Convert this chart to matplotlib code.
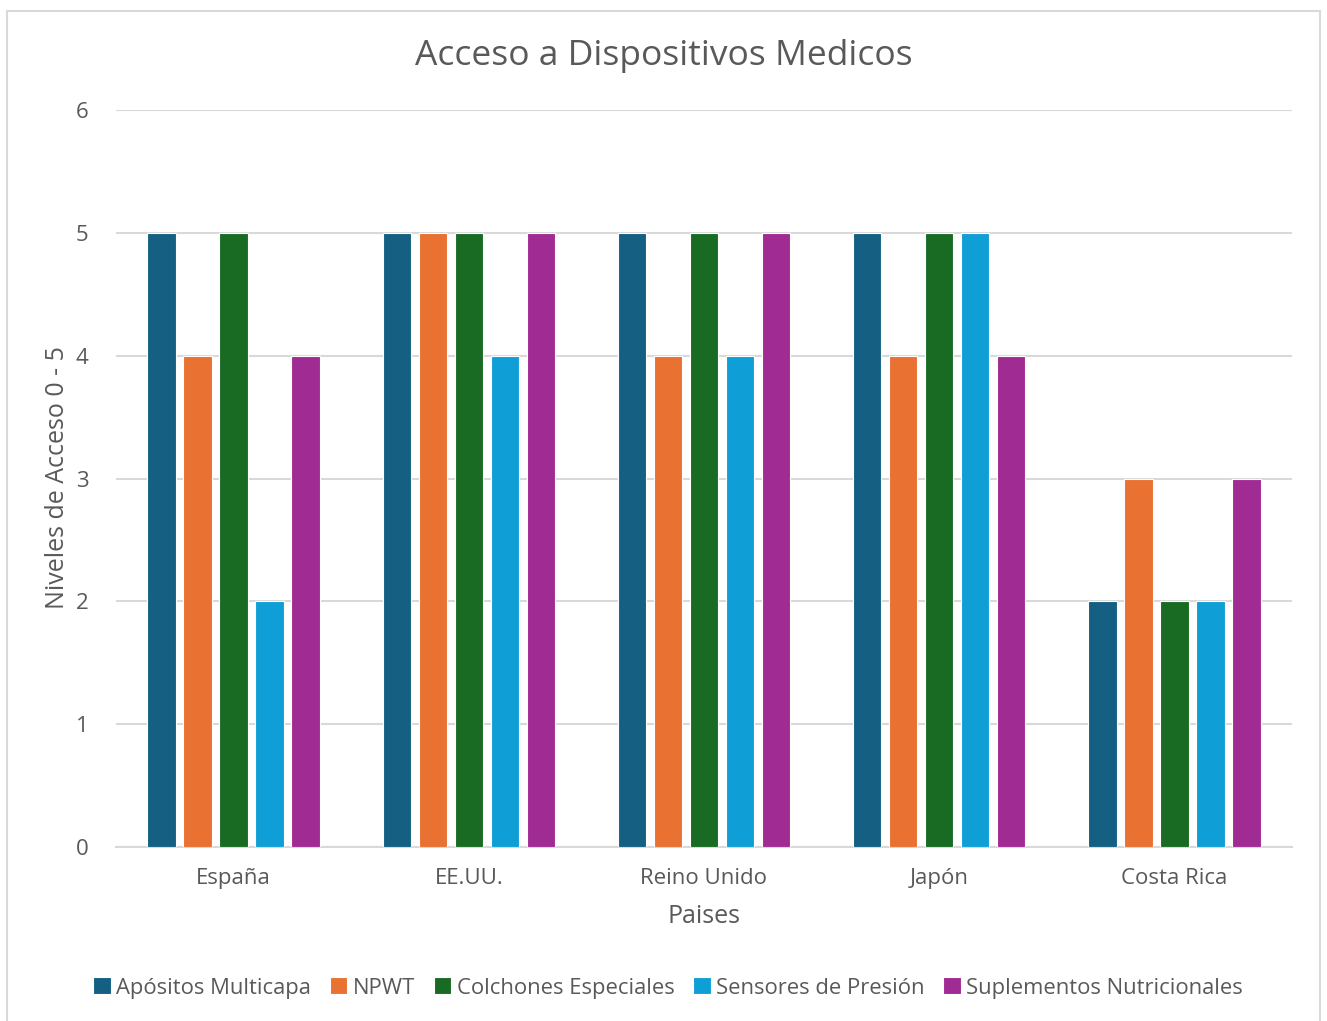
import matplotlib.pyplot as plt
from matplotlib.patches import Rectangle
import numpy as np

paises = ["España", "EE.UU.", "Reino Unido", "Japón", "Costa Rica"]
series = ["Apósitos Multicapa", "NPWT", "Colchones Especiales",
          "Sensores de Presión", "Suplementos Nutricionales"]
apositos = [5, 5, 5, 5, 2]
npwt = [4, 5, 4, 4, 3]
colchones = [5, 5, 5, 5, 2]
sensores = [2, 4, 4, 5, 2]
suplementos = [4, 5, 5, 4, 3]
valores = [apositos, npwt, colchones, sensores, suplementos]
colores = ["#156082", "#E97132", "#196B24", "#0F9ED5", "#A02B93"]

texto = "#595959"
plt.rcParams['font.family'] = ['Open Sans', 'DejaVu Sans']

W, H = 1327, 1021
fig = plt.figure(figsize=(W / 100, H / 100), dpi=100)
# marco del área del gráfico
fig.patches.append(Rectangle((7 / W, -0.01), 1313 / W, 1 - 11 / H + 0.01,
                             transform=fig.transFigure, fill=False,
                             edgecolor="#D9D9D9", linewidth=1.5))

ax = fig.add_axes([116 / W, 1 - 847 / H, 1176 / W, 737 / H])

x = np.arange(len(paises))
paso = 0.153
ancho = 0.121
for i, (nombre, vals) in enumerate(zip(series, valores)):
    ax.bar(x + (i - 2) * paso, vals, width=ancho, color=colores[i],
           edgecolor="white", linewidth=0.8, label=nombre, zorder=3)

ax.set_xlim(-0.5, len(paises) - 0.5)
ax.set_ylim(0, 6)
ax.set_yticks(range(0, 7))
ax.set_xticks(x)
ax.set_xticklabels(paises)
ax.yaxis.grid(True, color="#D9D9D9", linewidth=1.5, zorder=0)
ax.tick_params(axis="both", length=0, labelsize=16, colors=texto)
ax.tick_params(axis="y", pad=20)
ax.tick_params(axis="x", pad=15)
for s in ["top", "right", "left"]:
    ax.spines[s].set_visible(False)
ax.spines["bottom"].set_color("#D9D9D9")
ax.spines["bottom"].set_linewidth(1.5)

fig.text(664 / W, 1 - 56 / H, "Acceso a Dispositivos Medicos", fontsize=25.5,
         color=texto, ha="center", va="center")
fig.text(704 / W, 1 - 916 / H, "Paises", fontsize=18, color=texto,
         ha="center", va="center")
fig.text(58 / W, 1 - 478 / H, "Niveles de Acceso 0 - 5", fontsize=18,
         color=texto, ha="center", va="center", rotation=90)

ax.legend(loc="center", bbox_to_anchor=(668 / W, 1 - 988 / H),
          bbox_transform=fig.transFigure, ncol=5, frameon=False,
          fontsize=15.8, labelcolor=texto, handlelength=0.8, handleheight=0.8,
          handletextpad=0.25, columnspacing=0.85)

fig.savefig("out.png", dpi=100)
